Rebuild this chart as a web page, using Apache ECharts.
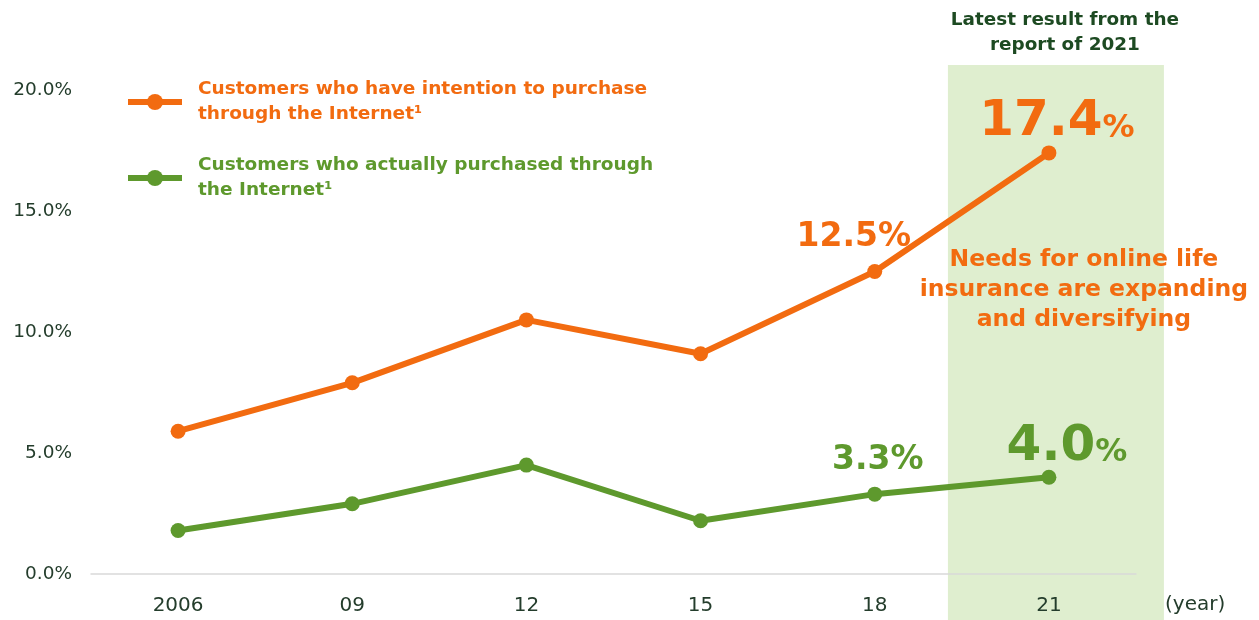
<!DOCTYPE html>
<html><head><meta charset="utf-8">
<script src="https://cdn.jsdelivr.net/npm/echarts@6/dist/echarts.min.js"></script>
<style>html,body{margin:0;padding:0;background:#fff}#c{width:1259px;height:620px}</style>
</head><body><div id="c"></div>
<script>
const years = ['2006', '09', '12', '15', '18', '21'];
const intention = [5.9, 7.9, 10.5, 9.1, 12.5, 17.4];
const purchased = [1.8, 2.9, 4.5, 2.2, 3.3, 4.0];
const yTicks = [0, 5, 10, 15, 20];
const nameIntention = 'Customers who have intention to purchase\nthrough the Internet\u00B9';
const namePurchased = 'Customers who actually purchased through\nthe Internet\u00B9';
const titleText = 'Latest result from the\nreport of 2021';
const noteText = 'Needs for online life\ninsurance are expanding\nand diversifying';

const ORANGE = '#f26b10';
const GREEN = '#5e992d';
const DARK = '#243d2c';
const FONT = 'DejaVu Sans';

function bigLabel(color, big) {
  return {
    show: true, position: 'top', distance: 8,
    formatter: p => big ? '{n|' + p.value.toFixed(1) + '}{p|%}' : '{m|' + p.value.toFixed(1) + '%}',
    rich: {
      n: {fontSize: 50, fontWeight: 'bold', color: color, fontFamily: FONT},
      p: {fontSize: 32, fontWeight: 'bold', color: color, fontFamily: FONT, padding: [12,0,0,0]},
      m: {fontSize: 33, fontWeight: 'bold', color: color, fontFamily: FONT}
    }
  };
}
function buildData(vals, color, offsets18, offsets21) {
  return vals.map((v, i) => {
    if (i === 4) return {value: v, label: Object.assign(bigLabel(color, false), {offset: offsets18})};
    if (i === 5) return {value: v, label: Object.assign(bigLabel(color, true), {offset: offsets21})};
    return v;
  });
}

const chart = echarts.init(document.getElementById('c'));
const option = {
  animation: false,
  textStyle: {fontFamily: FONT},
  grid: {left: 91, right: 123, top: 90, bottom: 46, containLabel: false},
  legend: {
    orient: 'vertical', left: 120, top: 72, itemGap: 26,
    itemWidth: 54, itemHeight: 20,
    lineStyle: {width: 6},
    data: [
      {name: nameIntention, textStyle: {color: ORANGE}},
      {name: namePurchased, textStyle: {color: GREEN}}
    ],
    textStyle: {fontSize: 18.5, fontWeight: 'bold', fontFamily: FONT, lineHeight: 25, padding: [0,0,0,11]},
    selectedMode: false
  },
  xAxis: {
    type: 'category', data: years, boundaryGap: true,
    name: '(year)', nameLocation: 'end', nameGap: 29,
    nameTextStyle: {fontSize: 20, color: DARK, verticalAlign: 'top', padding: [21,0,0,0]},
    axisLine: {lineStyle: {color: '#d9d9d9', width: 1.5}},
    axisTick: {show: false},
    axisLabel: {fontSize: 20, color: DARK, margin: 22}
  },
  yAxis: {
    type: 'value', min: yTicks[0], max: yTicks[yTicks.length - 1], interval: 5,
    axisLine: {show: false}, axisTick: {show: false}, splitLine: {show: false},
    axisLabel: {fontSize: 18.5, color: DARK, margin: 19, formatter: v => v.toFixed(1) + '%'}
  },
  series: [
    {
      name: nameIntention, type: 'line', data: buildData(intention, ORANGE, [-21, -2], [8, 10]),
      symbol: 'circle', symbolSize: 15, lineStyle: {color: ORANGE, width: 6},
      itemStyle: {color: ORANGE}, z: 3
    },
    {
      name: namePurchased, type: 'line', data: buildData(purchased, GREEN, [3, -2], [18, 10]),
      symbol: 'circle', symbolSize: 15, lineStyle: {color: GREEN, width: 6},
      itemStyle: {color: GREEN}, z: 3
    }
  ]
};
chart.setOption(option);

const cx = chart.convertToPixel({xAxisIndex: 0}, years[5]);
chart.setOption({
  graphic: [
    {type: 'rect', z: -10, silent: true,
     shape: {x: cx - 101, y: 65, width: 216, height: 560},
     style: {fill: '#dfeecf'}},
    {type: 'text', z: 10, x: cx + 16, y: 8,
     style: {text: titleText, align: 'center', verticalAlign: 'top', fontSize: 18.4, fontWeight: 'bold', fill: '#1d4a22', fontFamily: FONT, lineHeight: 25}},
    {type: 'text', z: 10, x: cx + 35, y: 245,
     style: {text: noteText, align: 'center', verticalAlign: 'top', fontSize: 23.5, fontWeight: 'bold', fill: ORANGE, fontFamily: FONT, lineHeight: 30}}
  ]
});
</script></body></html>
